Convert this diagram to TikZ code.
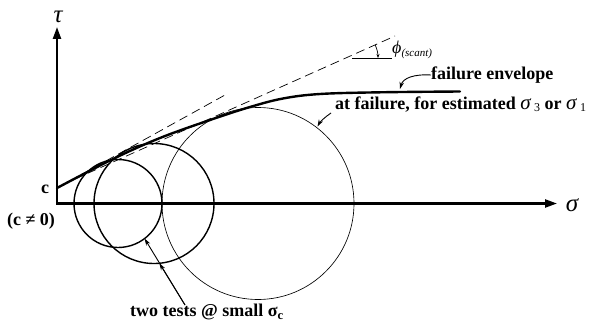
\documentclass[tikz,border=0pt]{standalone}
\usepackage{fontspec}
\setmainfont{Liberation Serif}
\usetikzlibrary{arrows.meta}
\begin{document}
\begin{tikzpicture}[x=1pt,y=-1pt,
  lbl/.style={font=\bfseries\fontsize{18}{20}\selectfont, inner sep=0pt},
  axislbl/.style={font=\itshape\fontsize{25}{25}\selectfont, inner sep=0pt},
  axis/.style={line width=2.2pt,{Triangle[length=12pt,width=8pt]}-{Triangle[length=12pt,width=8pt]}},
  thinc/.style={line width=0.65pt},
  thickc/.style={line width=1.4pt},
  dsh/.style={line width=0.7pt,dash pattern=on 9pt off 5pt},
  lead/.style={line width=0.9pt,-{Stealth[length=7pt,width=4.5pt]}}]
\useasboundingbox (0,0) rectangle (599,321);
% axes
\coordinate (O) at (57,203.5);
\coordinate (ytip) at (57,27);
\coordinate (xtip) at (557,203.5);
\draw[axis] (ytip) -- (O) -- (xtip);
\node[axislbl] (tau) at (58,17) {τ};
\node[axislbl] (sig) at (572,205) {σ};
% circles
\coordinate (c1) at (118,203.5);
\coordinate (c2) at (154,203.5);
\coordinate (c3) at (258,203.5);
\draw[thickc] (c1) circle[radius=44];
\draw[thickc] (c2) circle[radius=60];
\draw[thinc] (c3) circle[radius=96];
% dashed lines
\coordinate (cpt) at (57,188);
\coordinate (u2) at (225,95);
\coordinate (l1) at (75,179);
\coordinate (l2) at (395,36);
\draw[dsh] (cpt) -- (u2);
\draw[dsh] (l1) -- (l2);
% envelope
\draw[line width=2.4pt, line cap=round] plot[smooth, tension=0.6] coordinates
  {(57,188) (113,159) (160,138) (210,120) (250,107) (283,98.5) (320,94) (380,92.3) (460,91.5)};
% phi angle
\coordinate (h1) at (352,58);
\coordinate (h2) at (392,58);
\draw[line width=0.8pt] (h1) -- (h2);
\coordinate (a0) at (375.2,45);
\coordinate (a1) at (378,58);
\draw[line width=0.7pt,-{Stealth[length=4pt,width=3pt]}] (a0) .. controls (377.05,49.07) and (378,53.52) .. (a1);
\node[inner sep=0pt, anchor=west] (phi) at (392,50) {\itshape\fontsize{18}{18}\selectfont ϕ\raisebox{-0.45ex}{\fontsize{11}{11}\selectfont (scant)}};
% labels
\node[lbl] (c) at (45,189) {c};
\node[lbl] (cne) at (31,221) {(c ≠ 0)};
\node[lbl, anchor=west] (fe) at (431,75) {failure envelope};
\node[lbl, anchor=west] (af) at (335,105) {at failure, for estimated \normalfont\itshape\fontsize{21}{21}\selectfont σ\,\raisebox{-0.2ex}{\upshape\fontsize{12}{12}\selectfont 3}\bfseries\upshape\fontsize{18}{20}\selectfont\ or \normalfont\itshape\fontsize{21}{21}\selectfont σ\,\raisebox{-0.2ex}{\upshape\fontsize{12}{12}\selectfont 1}};
\node[lbl, anchor=west] (tt) at (130,312) {two tests @ small σ\textsubscript{c}};
% leaders
\coordinate (fetip) at (400,89);
\draw[lead] (fe.west) .. controls (414,74) and (403,78) .. (fetip);
\coordinate (aftail) at (331,113);
\coordinate (aftip) at (317.5,126.5);
\draw[lead] (aftail) .. controls (325,117) and (320,122) .. (aftip);
\coordinate (tttail) at (185,305);
\coordinate (t1) at (144.6,238.6);
\coordinate (t2) at (159.4,263.3);
\draw[lead] (tttail) -- (t1);
\draw[lead] (tttail) -- (t2);
\end{tikzpicture}
\end{document}
